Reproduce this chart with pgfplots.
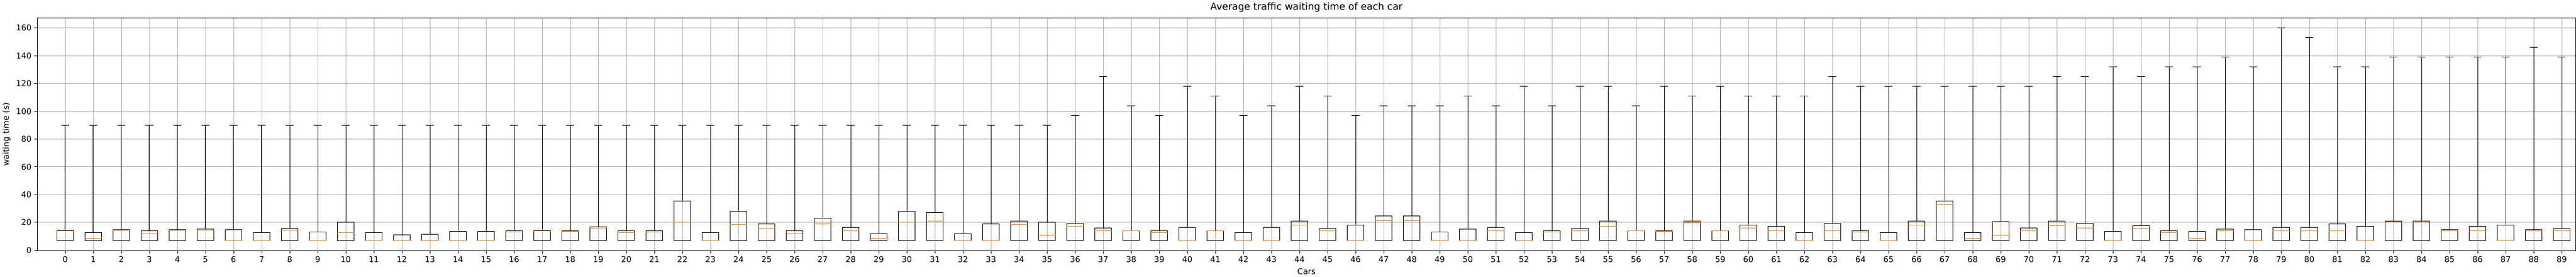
\documentclass[border=0pt]{standalone}
\usepackage{pgfplots}
\pgfplotsset{compat=1.18}
\usepgfplotslibrary{statistics}
\usepackage{fontspec}
\setmainfont{DejaVu Sans}
\definecolor{mplorange}{HTML}{FF7F0E}
\definecolor{gridgray}{HTML}{B0B0B0}
\newcommand\bx[4]{\addplot[black, line width=0.7pt, boxplot/draw direction=y, boxplot prepared={draw position=#1, lower whisker=7, lower quartile=7, median=#2, upper quartile=#3, upper whisker=#4, box extend=0.6, whisker extend=0.3, every median/.style={draw=mplorange, line width=0.7pt}}] coordinates {};}
\begin{document}
\begin{tikzpicture}
\begin{axis}[
  scale only axis, width=3139pt, height=287pt,
  xmin=-1, xmax=89.5, ymin=-0.4, ymax=167,
  xtick={0,...,89}, ytick={0,20,...,160},
  grid=major, grid style={gridgray, line width=0.6pt},
  axis line style={line width=0.6pt},
  tick style={black, line width=0.6pt}, tick align=outside,
  xtick pos=bottom, ytick pos=left,
  major tick length=3.5pt,
  /pgf/number format/assume math mode=true,
  ticklabel style={font=\fontsize{10}{12}\selectfont},
  title={Average traffic waiting time of each car},
  title style={font=\fontsize{12}{14}\selectfont, yshift=-2pt},
  xlabel={Cars}, ylabel={waiting time (s)},
  label style={font=\fontsize{10}{12}\selectfont},
]
\bx{0}{14}{14.3}{90}
\bx{1}{8.7}{12.5}{90}
\bx{2}{14.3}{14.7}{90}
\bx{3}{12}{14.1}{90}
\bx{4}{14.3}{14.7}{90}
\bx{5}{14.3}{15.3}{90}
\bx{6}{7}{14.6}{90}
\bx{7}{7}{12.5}{90}
\bx{8}{14.3}{15.5}{90}
\bx{9}{7}{13}{90}
\bx{10}{12.5}{20}{90}
\bx{11}{7}{12.5}{90}
\bx{12}{7}{11.2}{90}
\bx{13}{7}{11.6}{90}
\bx{14}{7}{13.7}{90}
\bx{15}{7}{13.7}{90}
\bx{16}{13}{14.1}{90}
\bx{17}{14}{14.3}{90}
\bx{18}{13.4}{14.1}{90}
\bx{19}{15.8}{16.7}{90}
\bx{20}{12.5}{14.1}{90}
\bx{21}{13}{14.1}{90}
\bx{22}{20}{35.2}{90}
\bx{23}{7}{12.5}{90}
\bx{24}{18.4}{28}{90}
\bx{25}{15.4}{19}{90}
\bx{26}{12}{14.1}{90}
\bx{27}{18.8}{23}{90}
\bx{28}{14.1}{16.3}{90}
\bx{29}{8.7}{12}{90}
\bx{30}{20}{28}{90}
\bx{31}{20.9}{27.2}{90}
\bx{32}{7}{12}{90}
\bx{33}{7}{18.8}{90}
\bx{34}{18.4}{20.9}{90}
\bx{35}{10.8}{20}{90}
\bx{36}{17.1}{19.2}{97}
\bx{37}{14.1}{15.8}{125}
\bx{38}{14}{14.1}{104}
\bx{39}{12.5}{14.1}{97}
\bx{40}{7}{16.3}{118}
\bx{41}{14}{14.1}{111}
\bx{42}{7}{12.9}{97}
\bx{43}{7}{16.3}{104}
\bx{44}{17.9}{20.9}{118}
\bx{45}{14.1}{15.4}{111}
\bx{46}{7}{17.9}{97}
\bx{47}{21.3}{24.7}{104}
\bx{48}{21.3}{24.7}{104}
\bx{49}{7}{13.3}{104}
\bx{50}{7}{15}{111}
\bx{51}{14.1}{16.3}{104}
\bx{52}{7}{12.5}{118}
\bx{53}{13.3}{14.1}{104}
\bx{54}{14.1}{15.4}{118}
\bx{55}{17.1}{20.9}{118}
\bx{56}{14}{14.1}{104}
\bx{57}{13.7}{14.1}{118}
\bx{58}{19.6}{20.9}{111}
\bx{59}{14}{14.1}{118}
\bx{60}{15.8}{17.9}{111}
\bx{61}{14.1}{17.1}{111}
\bx{62}{7}{12.5}{111}
\bx{63}{14.1}{19.2}{125}
\bx{64}{13.3}{14.1}{118}
\bx{65}{7}{12.5}{118}
\bx{66}{17.9}{20.9}{118}
\bx{67}{33}{35.2}{118}
\bx{68}{8.7}{12.5}{118}
\bx{69}{10.8}{20.5}{118}
\bx{70}{14.1}{15.8}{118}
\bx{71}{17.5}{20.9}{125}
\bx{72}{15.8}{19.2}{125}
\bx{73}{7}{13.7}{132}
\bx{74}{15.4}{17.5}{125}
\bx{75}{12.9}{14.1}{132}
\bx{76}{8.7}{13.7}{132}
\bx{77}{14.1}{15}{139}
\bx{78}{7}{14.6}{132}
\bx{79}{14.1}{16.3}{160}
\bx{80}{14.1}{16.3}{153}
\bx{81}{14.1}{18.8}{132}
\bx{82}{7}{17.1}{132}
\bx{83}{20.7}{20.9}{139}
\bx{84}{20}{20.9}{139}
\bx{85}{14.1}{14.6}{139}
\bx{86}{14.1}{17.1}{139}
\bx{87}{7}{17.9}{139}
\bx{88}{14.1}{14.6}{146}
\bx{89}{14.1}{15.4}{139}
\end{axis}
\end{tikzpicture}
\end{document}
